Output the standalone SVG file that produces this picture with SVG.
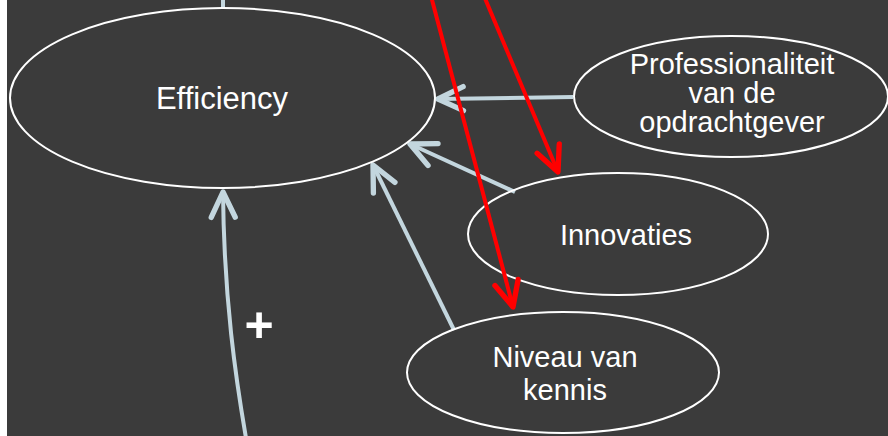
<svg xmlns="http://www.w3.org/2000/svg" width="888" height="436" viewBox="0 0 888 436">
<defs>
<style>
.node ellipse{fill:none;stroke:#ffffff;stroke-width:2}
.node text{fill:#ffffff;font-family:"Liberation Sans",Arial,sans-serif;font-size:29px;text-anchor:middle}
.blue{fill:none;stroke:#c3d6de;stroke-width:4}
.red{fill:none;stroke:#ff0000;stroke-width:4}
</style>
<marker id="ab" markerUnits="userSpaceOnUse" markerWidth="40" markerHeight="40" viewBox="-25 -15 30 30" refX="0" refY="0" orient="auto" overflow="visible">
<path d="M-19,-9 L0,0 L-19,9" fill="none" stroke="#c3d6de" stroke-width="4" stroke-linecap="round" stroke-linejoin="round"/>
</marker>
<marker id="ar" markerUnits="userSpaceOnUse" markerWidth="40" markerHeight="40" viewBox="-25 -15 30 30" refX="0" refY="0" orient="auto" overflow="visible">
<path d="M-19,-9 L0,0 L-19,9" fill="none" stroke="#ff0000" stroke-width="4" stroke-linecap="round" stroke-linejoin="round"/>
</marker>
</defs>
<rect x="0" y="0" width="888" height="436" fill="#3b3b3b"/>
<rect x="0" y="0" width="7" height="436" fill="#ffffff"/>
<g id="connectors-blue">
<path class="blue" d="M223,-2 L223,8"/>
<path class="blue" d="M573,97 L438,99" marker-end="url(#ab)"/>
<path class="blue" d="M515,192 L410,144" marker-end="url(#ab)"/>
<path class="blue" d="M454,330 L373,165" marker-end="url(#ab)"/>
<path class="blue" d="M246,438 C236,380 224,300 223,192" marker-end="url(#ab)"/>
</g>
<g id="efficiency" class="node">
<ellipse cx="222.5" cy="98" rx="212.5" ry="90"/>
<text x="222" y="109" style="font-size:31px">Efficiency</text>
</g>
<g id="professionaliteit" class="node">
<ellipse cx="731" cy="96.5" rx="157" ry="60.5"/>
<text x="732" y="74">Professionaliteit</text>
<text x="732" y="103">van de</text>
<text x="732" y="132">opdrachtgever</text>
</g>
<g id="innovaties" class="node">
<ellipse cx="618" cy="234" rx="150" ry="61"/>
<text x="626" y="245">Innovaties</text>
</g>
<g id="niveau" class="node">
<ellipse cx="563" cy="372.5" rx="156" ry="60.5"/>
<text x="565" y="367">Niveau van</text>
<text x="565" y="400">kennis</text>
</g>
<g id="label-plus">
<text x="259" y="342" fill="#ffffff" font-family="'Liberation Sans',Arial,sans-serif" font-size="50" font-weight="bold" text-anchor="middle">+</text>
</g>
<g id="connectors-red">
<path class="red" d="M431,-4 L513,307" marker-end="url(#ar)"/>
<path class="red" d="M484,-4 L558,172" marker-end="url(#ar)"/>
</g>
</svg>
